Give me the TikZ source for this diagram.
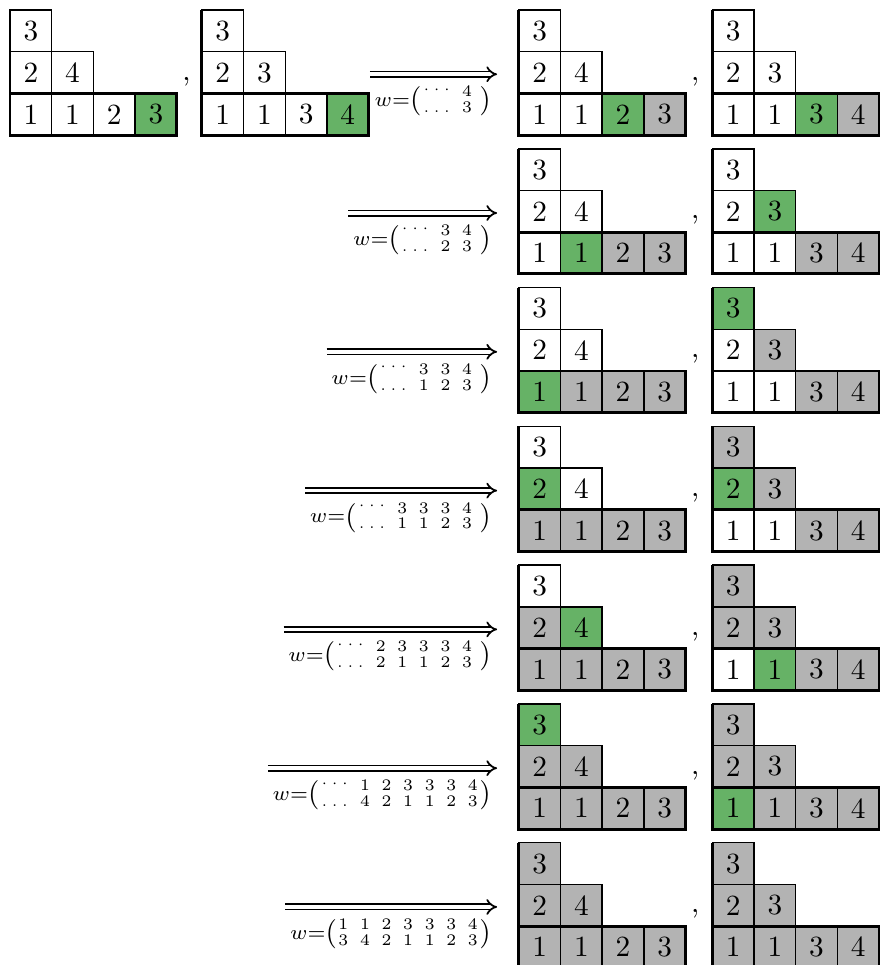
\documentclass[tikz,border=0pt]{standalone}
\usepackage{amsmath}
\usepackage{xcolor}
\usepackage{tikz}
\usetikzlibrary{arrows.meta, calc}

\definecolor{wt}{RGB}{255,255,255}
\definecolor{gn}{RGB}{102,178,102}
\definecolor{gy}{RGB}{179,179,179}

% one tableau: name, lower left corner, entry/fill for the 7 boxes
\newcommand{\tabl}[3]{%
  \foreach \ent/\fil [count=\i from 0] in {#3} {
    \pgfmathsetmacro\cx{{0,1,2,3,0,1,0}[\i]}
    \pgfmathsetmacro\cy{{0,0,0,0,1,1,2}[\i]}
    \node[cell, fill=\fil] (#1-\i) at ($(#2)+(\cx*0.5+0.25,\cy*0.5+0.25)$) {\ent};
  }
  \draw[edge] (#1-6.north west) -- (#1-0.south west) -- (#1-3.south east) -- (#1-3.north east) -- (#1-0.north west);
}
% label under the arrow
\newcommand{\up}{\raisebox{1.2pt}{$\cdotp\cdotp\cdotp$}}
\newcommand{\dn}{$\ldotp\ldotp\ldotp$}
\newcommand{\wlab}[2]{$\scriptstyle w=\left(\hskip0.5pt\vcenter{\hbox{\fontsize{5.5}{5.4}\selectfont\setlength\tabcolsep{2pt}\begin{tabular}{@{}*{7}{c}@{}}#1\\#2\end{tabular}}}\hskip0.5pt\right)$}

\begin{document}
\begin{tikzpicture}[
    cell/.style={draw, line width=0.5pt, minimum size=0.5cm, inner sep=0pt, outer sep=0pt},
    edge/.style={line width=1pt},
    imp/.style={double, double distance=1.2pt, line width=0.6pt, -{Implies}},
    wl/.style={inner sep=0pt, anchor=north east},
    sep/.style={inner sep=0pt, anchor=base west},
]
\useasboundingbox (0,0) rectangle (10.54,-11.57);

% corners
\coordinate (A1) at (0.12,-1.62);
\coordinate (B1) at (2.42,-1.62);
\foreach \r in {1,...,7} {
  \coordinate (C\r) at (6.22,{-1.62-(\r-1)*1.664});
  \coordinate (D\r) at (8.54,{-1.62-(\r-1)*1.664});
}

% row 1
\tabl{a1}{A1}{1/wt,1/wt,2/wt,3/gn,2/wt,4/wt,3/wt}
\tabl{b1}{B1}{1/wt,1/wt,3/wt,4/gn,2/wt,3/wt,3/wt}
\tabl{c1}{C1}{1/wt,1/wt,2/gn,3/gy,2/wt,4/wt,3/wt}
\tabl{d1}{D1}{1/wt,1/wt,3/gn,4/gy,2/wt,3/wt,3/wt}
\node[sep] (k0) at ($(A1)+(2.06,0.66)$) {,};
\node[wl] (w1) at ($(C1)+(-0.33,0.60)$) {\wlab{\up & 4}{\dn & 3}};
\draw[imp] ([shift={(-0.05,0.13)}]w1.north west) -- ([shift={(0.07,0.13)}]w1.north east);

% row 2
\tabl{c2}{C2}{1/wt,1/gn,2/gy,3/gy,2/wt,4/wt,3/wt}
\tabl{d2}{D2}{1/wt,1/wt,3/gy,4/gy,2/wt,3/gn,3/wt}
\node[wl] (w2) at ($(C2)+(-0.33,0.60)$) {\wlab{\up & 3 & 4}{\dn & 2 & 3}};
\draw[imp] ([shift={(-0.05,0.13)}]w2.north west) -- ([shift={(0.07,0.13)}]w2.north east);

% row 3
\tabl{c3}{C3}{1/gn,1/gy,2/gy,3/gy,2/wt,4/wt,3/wt}
\tabl{d3}{D3}{1/wt,1/wt,3/gy,4/gy,2/wt,3/gy,3/gn}
\node[wl] (w3) at ($(C3)+(-0.33,0.60)$) {\wlab{\up & 3 & 3 & 4}{\dn & 1 & 2 & 3}};
\draw[imp] ([shift={(-0.05,0.13)}]w3.north west) -- ([shift={(0.07,0.13)}]w3.north east);

% row 4
\tabl{c4}{C4}{1/gy,1/gy,2/gy,3/gy,2/gn,4/wt,3/wt}
\tabl{d4}{D4}{1/wt,1/wt,3/gy,4/gy,2/gn,3/gy,3/gy}
\node[wl] (w4) at ($(C4)+(-0.33,0.60)$) {\wlab{\up & 3 & 3 & 3 & 4}{\dn & 1 & 1 & 2 & 3}};
\draw[imp] ([shift={(-0.05,0.13)}]w4.north west) -- ([shift={(0.07,0.13)}]w4.north east);

% row 5
\tabl{c5}{C5}{1/gy,1/gy,2/gy,3/gy,2/gy,4/gn,3/wt}
\tabl{d5}{D5}{1/wt,1/gn,3/gy,4/gy,2/gy,3/gy,3/gy}
\node[wl] (w5) at ($(C5)+(-0.33,0.60)$) {\wlab{\up & 2 & 3 & 3 & 3 & 4}{\dn & 2 & 1 & 1 & 2 & 3}};
\draw[imp] ([shift={(-0.05,0.13)}]w5.north west) -- ([shift={(0.07,0.13)}]w5.north east);

% row 6
\tabl{c6}{C6}{1/gy,1/gy,2/gy,3/gy,2/gy,4/gy,3/gn}
\tabl{d6}{D6}{1/gn,1/gy,3/gy,4/gy,2/gy,3/gy,3/gy}
\node[wl] (w6) at ($(C6)+(-0.33,0.60)$) {\wlab{\up & 1 & 2 & 3 & 3 & 3 & 4}{\dn & 4 & 2 & 1 & 1 & 2 & 3}};
\draw[imp] ([shift={(-0.05,0.13)}]w6.north west) -- ([shift={(0.07,0.13)}]w6.north east);

% row 7
\tabl{c7}{C7}{1/gy,1/gy,2/gy,3/gy,2/gy,4/gy,3/gy}
\tabl{d7}{D7}{1/gy,1/gy,3/gy,4/gy,2/gy,3/gy,3/gy}
\node[wl] (w7) at ($(C7)+(-0.33,0.60)$) {\wlab{1 & 1 & 2 & 3 & 3 & 3 & 4}{3 & 4 & 2 & 1 & 1 & 2 & 3}};
\draw[imp] ([shift={(-0.05,0.13)}]w7.north west) -- ([shift={(0.07,0.13)}]w7.north east);

% commas
\foreach \r in {1,...,7}
  \node[sep] (k\r) at ($(C\r)+(2.06,0.66)$) {,};

\end{tikzpicture}
\end{document}
